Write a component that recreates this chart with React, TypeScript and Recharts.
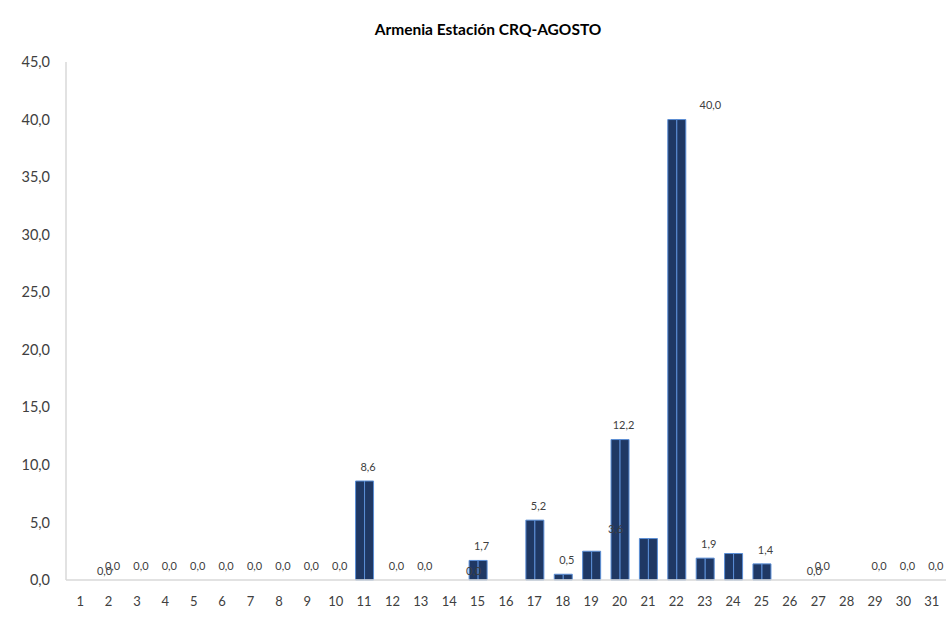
import React from "react";
import { ComposedChart, Bar, Line, XAxis, YAxis, LabelList } from "recharts";

const days = [1,2,3,4,5,6,7,8,9,10,11,12,13,14,15,16,17,18,19,20,21,22,23,24,25,26,27,28,29,30,31];
// precipitation (mm); null = no record
const rain: (number | null)[] = [null,0,0,0,0,0,0,0,0,0,8.6,0,0,null,1.7,null,5.2,0.5,2.5,12.2,3.6,40.0,1.9,2.3,1.4,null,0,null,0,0,0];
// which days show the main data label
const showLabel: boolean[] = [false,true,true,true,true,true,true,true,true,true,true,true,true,false,true,false,true,true,false,true,false,true,true,false,true,false,true,false,true,true,true];
// stray (misplaced) labels seen in the original
const strayLabel: (number | null)[] = [null,0,null,null,null,null,null,null,null,null,null,null,null,null,0,null,null,null,null,3.6,null,null,null,null,null,null,0,null,null,null,null];
const yTicks = [0,5,10,15,20,25,30,35,40,45];

const data = days.map((d, i) => ({
  day: String(d),
  a: rain[i],
  b: rain[i],
  lab: showLabel[i] ? rain[i] : null,
  stray: strayLabel[i],
}));

const fmt = (v: number) => v.toFixed(1).replace(".", ",");
const FONT = "Lato, 'Open Sans', sans-serif";
const labelShiftX: Record<string, number> = { "22": 30 };

const MainLabel = (props: any) => {
  const { x, y, value, index } = props;
  if (value == null || y == null) return null;
  const day = data[index] ? data[index].day : "";
  const cx = x + 4 + (labelShiftX[day] || 0);
  return (
    <text x={cx} y={y - 13} textAnchor="middle" dominantBaseline="middle" fontSize={11} fontFamily={FONT} fill="#404040">
      {fmt(Number(value))}
    </text>
  );
};

const StrayLabel = (props: any) => {
  const { x, y, value } = props;
  if (value == null || y == null) return null;
  return (
    <text x={x - 4} y={y - 8} textAnchor="middle" dominantBaseline="middle" fontSize={11} fontFamily={FONT} fill="#404040">
      {fmt(Number(value))}
    </text>
  );
};

export default function App() {
  return (
    <div style={{ position: "absolute", left: 0, top: 0, width: 950, height: 619, background: "#fff" }}>
      <div style={{ position: "absolute", left: 0, width: 976, top: 20, textAlign: "center", fontFamily: FONT, fontWeight: 700, fontSize: 15.5, color: "#000" }}>
        Armenia Estación CRQ-AGOSTO
      </div>
      <ComposedChart width={950} height={619} data={data} margin={{ top: 62, right: 4, bottom: 9, left: 0 }} barCategoryGap="20%" barGap={0}>
        <XAxis dataKey="day" height={30} axisLine={{ stroke: "#d9d9d9", strokeWidth: 1.5 }} tickLine={false} tickSize={0} tickMargin={17} interval={0}
          tick={{ fontSize: 13, fontFamily: FONT, fill: "#404040" }} />
        <YAxis width={66} domain={[0, 45]} ticks={yTicks} tickFormatter={fmt} axisLine={{ stroke: "#d9d9d9", strokeWidth: 1.5 }} tickLine={false} tickSize={0} tickMargin={16}
          tick={{ fontSize: 14.5, fontFamily: FONT, fill: "#404040" }} />
        <Bar dataKey="a" fill="#1f3864" stroke="#5b8ed6" strokeWidth={1} isAnimationActive={false} />
        <Bar dataKey="b" fill="#1f3864" stroke="#5b8ed6" strokeWidth={1} isAnimationActive={false} />
        <Line dataKey="lab" stroke="none" dot={false} activeDot={false} isAnimationActive={false} connectNulls={false}>
          <LabelList dataKey="lab" content={<MainLabel />} />
        </Line>
        <Line dataKey="stray" stroke="none" dot={false} activeDot={false} isAnimationActive={false} connectNulls={false}>
          <LabelList dataKey="stray" content={<StrayLabel />} />
        </Line>
      </ComposedChart>
    </div>
  );
}
